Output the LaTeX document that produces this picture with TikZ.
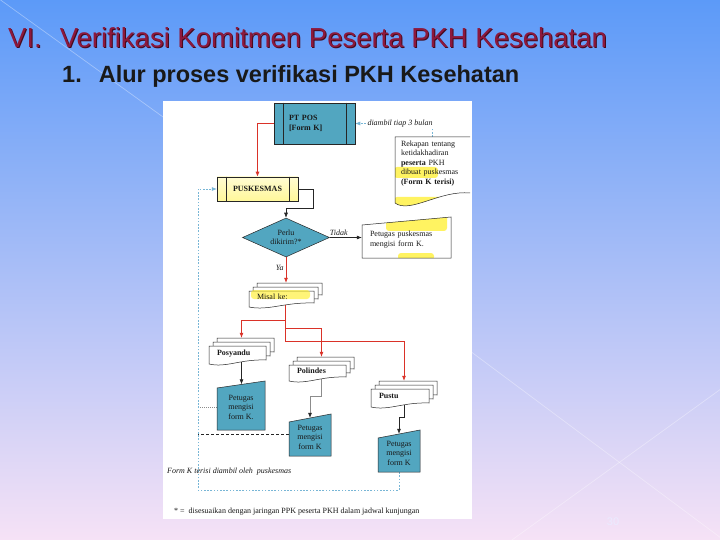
\documentclass[tikz,border=0pt]{standalone}
\usepackage{fontspec}
\setmainfont{Liberation Serif}
\newfontfamily\sansf{Liberation Sans}
\usetikzlibrary{shapes.geometric,arrows.meta,calc}
\pgfdeclarelayer{back}
\pgfdeclarelayer{lines}
\pgfsetlayers{back,lines,main}
\definecolor{teal1}{RGB}{82,166,192}
\definecolor{redl}{RGB}{218,50,40}
\definecolor{bluel}{RGB}{120,182,214}
\definecolor{maroon1}{RGB}{140,24,60}
\definecolor{maroon2}{RGB}{70,10,30}
\definecolor{hl}{RGB}{255,238,30}
\definecolor{txt}{RGB}{25,25,25}
\definecolor{bgtop}{RGB}{92,154,248}
\definecolor{bgmid}{RGB}{160,196,240}
\definecolor{bgbot}{RGB}{246,226,246}
\tikzset{
  dfont/.style={font=\fontsize{8}{9.5}\selectfont, text=txt},
  dbold/.style={font=\fontsize{8}{9.5}\selectfont\bfseries, text=txt},
  dital/.style={font=\fontsize{8}{9.5}\selectfont\itshape, text=txt},
  shapeline/.style={draw=black!85, line width=0.5pt},
  procbox/.style={shapeline, dbold, inner ysep=0pt},
  mdtext/.style={dfont, inner xsep=8pt, inner ysep=0pt, align=left, text height=12pt, text depth=0.4pt},
  tipk/.style={-{Latex[length=5pt,width=4pt]}},
  redarrow/.style={draw=redl, line width=0.7pt, tipk},
  blackarrow/.style={draw=black!85, line width=0.6pt, tipk},
  grayarrow/.style={draw=black!45, line width=0.6pt, -{Latex[length=5pt,width=4pt,color=black!85]}},
  bluedot/.style={draw=bluel, line width=0.6pt, dash pattern=on 1.6pt off 1.6pt},
  graydot/.style={draw=black!45, line width=0.5pt, dash pattern=on 1pt off 1pt},
  blackdash/.style={draw=black!85, line width=0.6pt, dash pattern=on 3pt off 2pt},
  hlmark/.style={fill=hl, opacity=0.7, rounded corners=3pt},
}
% multi-document: name, x0, x1, ytop, ybot, text, extra (highlight)
\newcommand{\MDoc}[7]{%
  \foreach \k in {8,4,0}{%
    \filldraw[fill=white, shapeline] ({#2+\k},{#4-\k}) -- ({#3+\k},{#4-\k}) -- ({#3+\k},{#5-4-\k}) .. controls ({#2+0.55*(#3-#2)+\k},{#5-5-\k}) and ({#2+0.3*(#3-#2)+\k},{#5+4-\k}) .. ({#2+\k},{#5-\k}) -- cycle;
  }%
  #7%
  \pgfmathsetmacro{\mdw}{#3-#2+8}%
  \pgfmathsetmacro{\mdh}{#5-#4+6}%
  \pgfmathsetmacro{\mdtw}{#3-#2-8}%
  \node[mdtext, minimum width=\mdw pt, minimum height=\mdh pt, text width=\mdtw pt] (#1) at ({(#2+#3+8)/2},{(#4+#5-10)/2}) {#6};%
}
% manual input: name, fill, x0, x1, ytopleft, ytopright, ybottom, text, node options
\newcommand{\ManIn}[9]{%
  \filldraw[fill=#2, shapeline] (#3,#5) -- (#4,#6) -- (#4,#7) -- (#3,#7) -- cycle;
  \pgfmathsetmacro{\miw}{#4-#3}%
  \pgfmathsetmacro{\mih}{#7-(#5+#6)/2}%
  \node[dfont, inner sep=0pt, minimum width=\miw pt, minimum height=\mih pt, align=center, #9] (#1) at ({(#3+#4)/2},{((#5+#6)/2+#7)/2}) {#8};%
}
\begin{document}
\begin{tikzpicture}[x=1pt,y=-1pt]
\useasboundingbox (0,0) rectangle (720,540);
\begin{pgfonlayer}{back}
  \shade[top color=bgtop, middle color=bgmid, bottom color=bgbot] (0,0) rectangle (720,540);
  \draw[white, opacity=.35, line width=.7pt] (-5,-4) -- (170,122);
  \draw[white, opacity=.35, line width=.7pt] (470,351) -- (725,541);
  \draw[white, opacity=.35, line width=.7pt] (725,386) -- (505,545);
  \fill[white] (163,101) rectangle (472,519);
\end{pgfonlayer}

% titles
\node[anchor=base west, inner sep=0pt, font=\sansf\fontsize{27.5}{30}\selectfont, text=maroon2] (titleshadow) at (9,49) {VI.\hspace{18pt}Verifikasi Komitmen Peserta PKH Kesehatan};
\node[anchor=base west, inner sep=0pt, font=\sansf\fontsize{27.5}{30}\selectfont, text=maroon1] (title) at (8,48) {VI.\hspace{18pt}Verifikasi Komitmen Peserta PKH Kesehatan};
\node[anchor=base west, inner sep=0pt, font=\sansf\bfseries\fontsize{23.5}{26}\selectfont, text=black!90] (subtitle) at (62,83) {1.\hspace{17pt}Alur proses verifikasi PKH Kesehatan};
\node[font=\sansf\fontsize{11}{12}\selectfont, text=white!92!blue] (pnum) at (613,522) {30};

% PT POS
\node[procbox, fill=teal1, minimum width=81pt, minimum height=41pt, text width=51pt, inner xsep=15pt, align=left] (ptpos) at (314.5,123.5) {PT POS\\{[}Form K{]}};
\draw[shapeline] ($(ptpos.north west)+(9,0)$) -- ($(ptpos.south west)+(9,0)$);
\draw[shapeline] ($(ptpos.north east)+(-9,0)$) -- ($(ptpos.south east)+(-9,0)$);

% PUSKESMAS
\node[procbox, top color=hl!20, middle color=hl!90, bottom color=hl!45, minimum width=81pt, minimum height=24pt] (pusk) at (257.5,189) {PUSKESMAS};
\draw[shapeline] ($(pusk.north west)+(9,0)$) -- ($(pusk.south west)+(9,0)$);
\draw[shapeline] ($(pusk.north east)+(-9,0)$) -- ($(pusk.south east)+(-9,0)$);

% Rekapan document
\fill[white] (470,137) -- (395,137) -- (395,203) .. controls (410,214) and (440,190) .. (470,193) -- cycle;
\begin{scope}
  \clip (470,137) -- (395,137) -- (395,203) .. controls (410,214) and (440,190) .. (470,193) -- cycle;
  \fill[hlmark] (394,167) rectangle (438,178);
  \fill[hlmark] (394,197) rectangle (446,212);
\end{scope}
\draw[shapeline] (470,137) -- (395,137) -- (395,203) .. controls (410,214) and (440,190) .. (470,193);
\node[dfont, align=left, text width=63pt, inner xsep=6pt, inner ysep=0pt, minimum width=75pt, minimum height=53pt] (rekap) at (432.5,163.5) {Rekapan tentang\\ketidakhadiran\\\textbf{peserta} PKH\\dibuat puskesmas\\\textbf{(Form K terisi)}};

% decision
\node[diamond, aspect=2.2, shapeline, fill=teal1, minimum width=87pt, minimum height=39pt, inner sep=0pt, dfont, align=center] (dia) at (286,237.5) {Perlu\\dikirim?*};

% Tidak box
\fill[white] (362,225) -- (451,217) -- (451,258) -- (362,258) -- cycle;
\begin{scope}
  \clip (362,225) -- (451,217) -- (451,258) -- (362,258) -- cycle;
  \fill[hlmark] (386,214) rectangle (447,231);
  \fill[hlmark] (398,253) rectangle (434,260);
\end{scope}
\ManIn{tidak}{none}{362}{451}{225}{217}{258}{Petugas puskesmas\\mengisi form K.}{align=left, text width=73pt, inner xsep=8pt}

% multi documents
\MDoc{misal}{249}{314}{291}{307}{Misal ke:}{\fill[hlmark, opacity=0.6] (251,290) rectangle (310,299);}
\MDoc{posy}{209}{266}{346}{364}{\textbf{Posyandu}}{}
\MDoc{polin}{289}{346}{365}{381}{\textbf{Polindes}}{}
\MDoc{pustu}{371}{429}{389}{407}{\textbf{Pustu}}{}

% petugas boxes
\ManIn{petA}{teal1}{217}{265}{388}{381}{430}{Petugas\\mengisi\\form K.}{}
\ManIn{petB}{teal1}{289}{331}{422}{414}{456}{Petugas\\mengisi\\form K}{}
\ManIn{petC}{teal1}{378}{420}{438}{430}{472}{Petugas\\mengisi\\form K}{}

% texts
\node[anchor=west, dital, inner sep=0pt] (formk) at (167,472) {Form K terisi diambil oleh\ \ puskesmas};
\node[anchor=west, dfont, inner sep=0pt] (foot) at (174,512) {* =\hspace{4pt}disesuaikan dengan jaringan PPK peserta PKH dalam jadwal kunjungan};

\coordinate (lb) at (198,490);
\coordinate (lftB) at (198,434);

\begin{pgfonlayer}{lines}
  \draw[redarrow] (ptpos.west) -| (pusk.north);
  \draw[blackarrow] (pusk.east) -- ++(15,0) -- ++(0,19) -| (dia.north);
  \draw[blackarrow] (dia.east) -- (dia.east -| tidak.west) node[pos=0.28, above, inner sep=1.5pt, dital] (tidaklbl) {Tidak};
  \draw[redarrow] (dia.south) -- (dia.south |- misal.north) node[pos=0.4, left, inner sep=2pt, dital] (yalbl) {Ya};
  \draw[redarrow] (misal.south) -- ++(0,15) -| (posy.north);
  \draw[redarrow] (misal.south) -- ++(0,23) -| (polin.north);
  \draw[redarrow] (misal.south) -- ++(0,36) -| (pustu.north);
  \draw[blackarrow] (posy.south) -- (posy.south |- petA.north);
  \draw[grayarrow] (polin.south) -- ++(0,17) -| (petB.north);
  \draw[blackarrow] (pustu.south) -- ++(0,12) -| (petC.north);
  \draw[blackdash] (lftB -| petB.west) -- (lftB);
  \draw[graydot] (petA.west) -- (petA.west -| lb);
  \draw[bluedot, -{Latex[length=5pt,width=4pt]}] (petC.south) |- (lb) |- (pusk.west);
  \draw[bluedot, -{Latex[length=5pt,width=4pt]}] (rekap.north) |- (ptpos.east) node[pos=0.71, fill=white, dital, inner sep=1pt] (diambil) {diambil tiap 3 bulan};
\end{pgfonlayer}
\end{tikzpicture}
\end{document}
